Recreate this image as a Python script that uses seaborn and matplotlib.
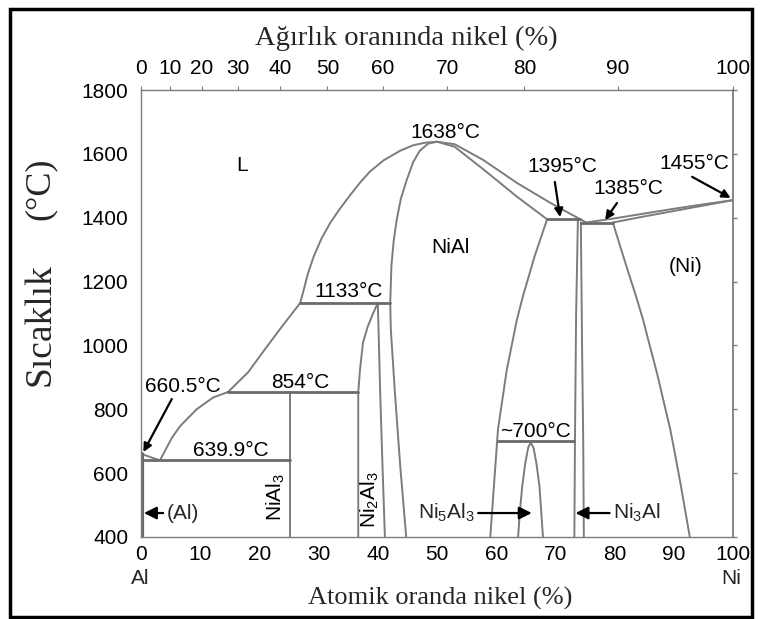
import numpy as np
import pandas as pd
import matplotlib
matplotlib.use("Agg")
import matplotlib.pyplot as plt
from matplotlib.patches import Rectangle
import seaborn as sns

# ---------------- data (atomic % Ni, temperature in °C) ----------------
liq_al_at = [0.0, 3.2, 5.2, 6.6, 9.4, 12.2, 14.7]
liq_al_T = [660.5, 640, 710, 747, 800, 837, 854]
liq_mid_at = [14.7, 18.1, 20.9, 23.8, 26.9]
liq_mid_T = [854, 916, 987, 1059, 1133]
liq_up_at = [26.9, 27.5, 28.2, 29.2, 30.5, 32.0, 33.6, 35.3, 37.0, 38.7, 41.0, 43.8,
             46.0, 48.0, 50.0]
liq_up_T = [1133, 1175, 1225, 1280, 1335, 1385, 1428, 1470, 1510, 1545, 1580, 1610,
            1627, 1635, 1638]
liq_ni_at = [50.0, 53.0, 57.8, 63.5, 69.1, 74.2, 75.2, 80.0, 85.0, 90.0, 95.0, 100.0]
liq_ni_T = [1638, 1630, 1581, 1509, 1447, 1395, 1385, 1398, 1413, 1428, 1442, 1455]
sol_ni_at = [79.7, 85.0, 90.0, 95.0, 100.0]
sol_ni_T = [1385, 1404, 1421, 1438, 1455]

nial_at = [44.8, 43.8, 42.9, 42.2, 42.1, 42.3, 42.7, 43.2, 43.9, 44.9, 46.0, 47.1,
           48.5, 50.0, 53.0, 57.8, 63.5, 68.6]
nial_T = [400, 620, 850, 1050, 1133, 1250, 1330, 1394, 1460, 1519, 1575, 1610,
          1632, 1638, 1622, 1552, 1466, 1395]
nial_solv_at = [68.6, 66.5, 64.5, 63.5, 61.8, 60.3, 59.0]
nial_solv_T = [1395, 1280, 1153, 1081, 925, 737, 400]
ni_solv_at = [79.7, 81.0, 82.3, 83.6, 84.8, 86.0, 87.2, 88.3, 89.4, 90.3, 91.1, 91.9, 92.7]
ni_solv_T = [1385, 1307, 1230, 1155, 1081, 995, 910, 823, 737, 650, 570, 485, 400]
ni3al_l_at = [73.8, 73.5, 73.3, 73.2]
ni3al_l_T = [1395, 1100, 700, 400]
ni3al_r_at = [74.3, 74.5, 74.7, 74.8]
ni3al_r_T = [1385, 1000, 700, 400]
ni5al3_at = [63.7, 64.0, 64.4, 64.9, 65.4, 65.8, 66.3, 66.8, 67.3, 67.6, 67.9]
ni5al3_T = [400, 480, 560, 630, 680, 695, 680, 630, 560, 480, 400]
ni2al3_at = [36.7, 36.7, 37.0, 37.5, 38.3, 39.2, 40.0, 40.2, 40.4, 40.8, 41.2]
ni2al3_T = [400, 854, 925, 1009, 1059, 1100, 1133, 1000, 853, 620, 400]
nial3_at = [25.2, 25.2]
nial3_T = [400, 854]
al_ss_at = [0.15, 0.15]
al_ss_T = [400, 660.5]

# invariant (horizontal) reactions
inv_T = [639.9, 854, 1133, 1395, 1385, 700]
inv_x0 = [0.0, 14.7, 26.9, 68.6, 74.3, 60.3]
inv_x1 = [25.2, 36.7, 42.1, 74.2, 79.7, 73.2]

# axes
at_ticks = [0, 10, 20, 30, 40, 50, 60, 70, 80, 90, 100]
T_ticks = [400, 600, 800, 1000, 1200, 1400, 1600, 1800]
wt_labels = [0, 10, 20, 30, 40, 50, 60, 70, 80, 90, 100]
M_NI, M_AL = 58.69, 26.98

# ---------------- style ----------------
sns.set_style("white")
plt.rcParams["font.family"] = ["Liberation Sans", "DejaVu Sans"]
SERIF = ["Liberation Serif", "DejaVu Serif"]
GRAY = "#7c7c7c"
DGRAY = "#6a6a6a"
FS = 15

fig = plt.figure(figsize=(7.67, 6.19), dpi=100)
ax = fig.add_axes([0.1838, 0.1325, 0.7719, 0.7221])


def draw(segs, color, lw):
    rows = []
    for name, (xs, ys) in segs.items():
        for x, y in zip(xs, ys):
            rows.append((name, x, y))
    df = pd.DataFrame(rows, columns=["seg", "at", "T"])
    sns.lineplot(data=df, x="at", y="T", units="seg", estimator=None, sort=False,
                 color=color, lw=lw, ax=ax, legend=False)


curves = {
    "liq_al": (liq_al_at, liq_al_T), "liq_mid": (liq_mid_at, liq_mid_T),
    "liq_up": (liq_up_at, liq_up_T), "liq_ni": (liq_ni_at, liq_ni_T),
    "sol_ni": (sol_ni_at, sol_ni_T), "nial": (nial_at, nial_T),
    "nial_solv": (nial_solv_at, nial_solv_T), "ni_solv": (ni_solv_at, ni_solv_T),
    "ni3al_l": (ni3al_l_at, ni3al_l_T), "ni3al_r": (ni3al_r_at, ni3al_r_T),
    "ni5al3": (ni5al3_at, ni5al3_T), "ni2al3": (ni2al3_at, ni2al3_T),
    "nial3": (nial3_at, nial3_T),
}
draw(curves, GRAY, 1.4)
draw({f"inv{i}": ([a, b], [t, t]) for i, (a, b, t) in enumerate(zip(inv_x0, inv_x1, inv_T))},
     DGRAY, 2.0)
draw({"al_ss": (al_ss_at, al_ss_T)}, DGRAY, 3.0)

ax.set_xlim(0, 100)
ax.set_ylim(400, 1800)
ax.set_xticks(at_ticks)
ax.set_yticks(T_ticks)
ax.set_xticklabels([str(v) for v in at_ticks])
ax.set_yticklabels([str(v) for v in T_ticks])
ax.set_xlabel("")
ax.set_ylabel("")
ax.tick_params(axis="both", labelsize=FS, colors=GRAY, labelcolor="black",
               length=3, width=1)
ax.tick_params(axis="x", pad=3)
ax.tick_params(axis="y", pad=6, right=True, direction="out")

for side in ["left", "top", "bottom"]:
    ax.spines[side].set_linestyle((0, (2, 1)))
    ax.spines[side].set_color(GRAY)
    ax.spines[side].set_linewidth(1.0)
ax.spines["right"].set_color(GRAY)
ax.spines["right"].set_linewidth(1.3)

# top axis: weight percent nickel
wt = np.array(wt_labels, dtype=float)
wt_pos = (wt / M_NI) / ((wt / M_NI) + ((100 - wt) / M_AL)) * 100
sec = ax.secondary_xaxis("top")
sec.set_xticks(wt_pos, [str(v) for v in wt_labels])
sec.tick_params(labelsize=FS, colors=GRAY, labelcolor="black", length=3, pad=6)
sec.spines["top"].set_visible(False)

# ---------------- annotations ----------------
tk = dict(fontsize=FS, color="black", ha="center", va="center", zorder=5)
ax.text(17.1, 1565, "L", **tk)
ax.text(51.4, 1668, "1638°C", **tk)
ax.text(52.2, 1308, "NiAl", **tk)
ax.text(92.0, 1246, "(Ni)", **tk)
ax.text(35.0, 1170, "1133°C", **tk)
ax.text(26.9, 885, "854°C", **tk)
ax.text(15.2, 672, "639.9°C", **tk)
ax.text(66.6, 731, "~700°C", **tk)
ax.text(7.0, 870, "660.5°C", **tk)
ax.text(71.1, 1559, "1395°C", **tk)
ax.text(82.3, 1493, "1385°C", **tk)
ax.text(93.4, 1571, "1455°C", **tk)
ax.text(22.8, 524, "NiAl$_\\mathregular{3}$", rotation=90, **tk)
ax.text(38.7, 516, "Ni$_\\mathregular{2}$Al$_\\mathregular{3}$", rotation=90, **tk)

arr = dict(arrowstyle="-|>,head_length=0.5,head_width=0.25", color="black", lw=1.6,
           shrinkA=0, shrinkB=0)
ax.annotate("", xy=(70.8, 1402), xytext=(69.9, 1512), arrowprops=arr)
ax.annotate("", xy=(78.4, 1393), xytext=(80.4, 1446), arrowprops=arr)
ax.annotate("", xy=(99.6, 1462), xytext=(93.1, 1528), arrowprops=arr)
ax.annotate("", xy=(0.4, 666), xytext=(5.2, 832), arrowprops=arr)

ax.annotate("(Al)", xy=(0.5, 475), xytext=(4.3, 475), arrowprops=arr,
            fontsize=FS, ha="left", va="center")
ax.annotate("Ni$_\\mathregular{5}$Al$_\\mathregular{3}$", xy=(66.0, 475), xytext=(56.4, 475),
            arrowprops=arr, fontsize=FS, ha="right", va="center")
ax.annotate("Ni$_\\mathregular{3}$Al", xy=(73.4, 475), xytext=(79.7, 475),
            arrowprops=arr, fontsize=FS, ha="left", va="center")

# end-member labels
fig.text(140 / 767, 1 - 578 / 619, "Al", fontsize=FS, ha="center", va="center")
fig.text(731 / 767, 1 - 578 / 619, "Ni", fontsize=FS, ha="center", va="center")

# axis titles (serif)
fig.text(440 / 767, 1 - 598 / 619, "Atomik oranda nikel (%)", family=SERIF,
         fontsize=19, ha="center", va="center")
fig.text(406 / 767, 1 - 38 / 619, "Ağırlık oranında nikel (%)", family=SERIF,
         fontsize=20.5, ha="center", va="center")
fig.text(40 / 767, 1 - 325 / 619, "Sıcaklık", family=SERIF, fontsize=27,
         rotation=90, ha="center", va="center")
fig.text(40 / 767, 1 - 189 / 619, "(°C)", family=SERIF, fontsize=26,
         rotation=90, ha="center", va="center")

# outer frame
fig.add_artist(Rectangle((10 / 767, 1 - 617 / 619), 742 / 767, 608 / 619,
                         transform=fig.transFigure, fill=False, lw=2.5,
                         edgecolor="black"))

fig.savefig("out.png", dpi=100)
